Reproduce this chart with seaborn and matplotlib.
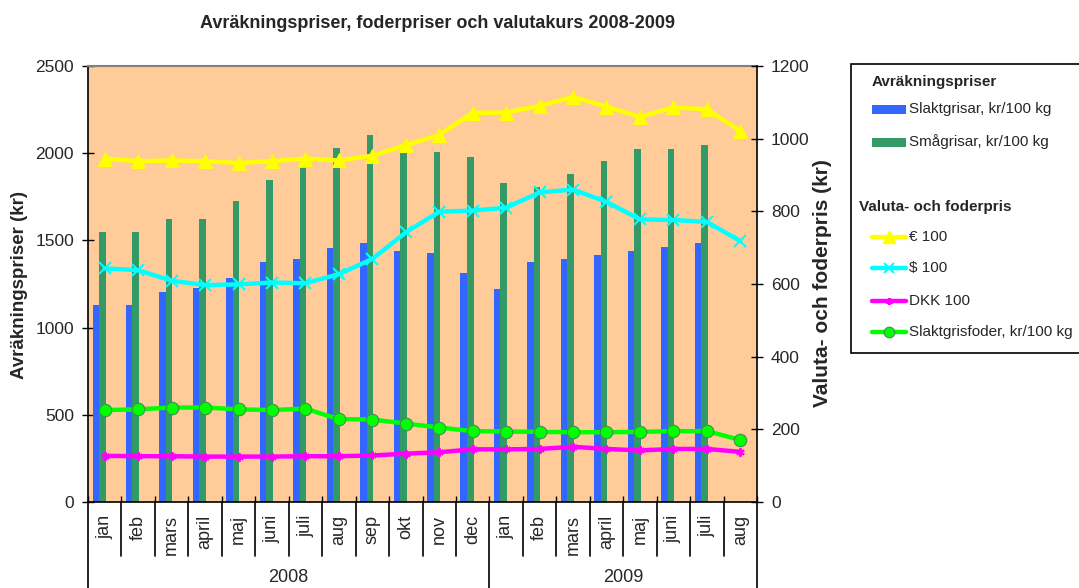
import numpy as np
import pandas as pd
import matplotlib
matplotlib.use("Agg")
import matplotlib.pyplot as plt
import seaborn as sns
from matplotlib.lines import Line2D
from matplotlib.patches import Rectangle

# ---------------- data ----------------
months = ["jan", "feb", "mars", "april", "maj", "juni", "juli", "aug", "sep", "okt", "nov", "dec",
          "jan", "feb", "mars", "april", "maj", "juni", "juli", "aug"]
years = ["2008"] * 12 + ["2009"] * 8
slaktgrisar = [1130, 1130, 1206, 1229, 1286, 1374, 1391, 1458, 1487, 1441, 1426, 1311,
               1220, 1376, 1393, 1416, 1439, 1462, 1485, np.nan]
smagrisar = [1548, 1548, 1621, 1621, 1726, 1846, 1917, 2032, 2106, 2005, 2005, 1980,
             1831, 1808, 1881, 1955, 2026, 2026, 2045, np.nan]
euro = [945, 938, 940, 938, 933, 938, 945, 940, 953, 982, 1010, 1071,
        1072, 1090, 1115, 1088, 1060, 1086, 1081, 1021]
usd = [643, 638, 609, 597, 599, 604, 602, 627, 669, 742, 799, 802,
       810, 852, 860, 826, 778, 776, 771, 718]
dkk = [127, 126, 126, 125, 125, 125, 126, 126, 128, 133, 137, 145,
       145, 146, 152, 146, 142, 146, 146, 138]
foder = [253, 255, 260, 260, 255, 253, 257, 228, 227, 216, 205, 195,
         194, 193, 192, 192, 193, 195, 195, 171]

bar_names = ["Slaktgrisar, kr/100 kg", "Smågrisar, kr/100 kg"]
line_names = ["€ 100", "$ 100", "DKK 100", "Slaktgrisfoder, kr/100 kg"]
title = "Avräkningspriser, foderpriser och valutakurs 2008-2009"
left_label = "Avräkningspriser (kr)"
right_label = "Valuta- och foderpris (kr)"
legend_head1 = "Avräkningspriser"
legend_head2 = "Valuta- och foderpris"

# ---------------- style ----------------
sns.set_theme(style="white")
plt.rcParams["font.family"] = ["Liberation Sans", "DejaVu Sans"]

W, H = 1079, 588
fig = plt.figure(figsize=(W / 100, H / 100), dpi=100)
fig.patch.set_facecolor("white")


def fx(px):
    return px / W


def fy(py):
    return 1 - py / H


ax_l, ax_r, ax_t, ax_b = 88, 757, 66, 502
ax = fig.add_axes([fx(ax_l), fy(ax_b), (ax_r - ax_l) / W, (ax_b - ax_t) / H])
ax.set_facecolor("#FFCC99")

keys = [f"{y}-{m}" for y, m in zip(years, months)]
idx = np.arange(len(keys))

c_blue, c_green = "#3366FF", "#339966"
df_bars = pd.DataFrame({
    "key": keys * 2,
    "serie": [bar_names[0]] * len(keys) + [bar_names[1]] * len(keys),
    "value": slaktgrisar + smagrisar,
}).dropna()

sns.barplot(data=df_bars, x="key", y="value", hue="serie", order=keys, hue_order=bar_names,
            palette=[c_blue, c_green], width=0.39, dodge=True, saturation=1,
            errorbar=None, legend=False, ax=ax, linewidth=0)
for p in ax.patches:
    p.set_x(p.get_x() - 0.17)

ax.set_xlim(-0.5, len(keys) - 0.5)
ax.set_ylim(0, 2500)
ax.set_yticks(range(0, 2501, 500))
ax.set_xlabel("")
ax.set_ylabel("")
ax.set_xticks(np.arange(-0.5, len(keys), 1))
ax.set_xticklabels([])
ax.tick_params(axis="x", direction="in", length=4.5, width=1, color="black", bottom=True)
ax.tick_params(axis="y", direction="inout", length=8, width=1, color="black", left=True,
               labelsize=12.5, pad=6)
for s in ["left", "bottom"]:
    ax.spines[s].set_color("black")
    ax.spines[s].set_linewidth(1.2)
ax.spines["top"].set_color("#808080")
ax.spines["top"].set_linewidth(1.5)
ax.spines["right"].set_visible(False)

ax2 = ax.twinx()
ax2.set_ylim(0, 1200)
ax2.set_yticks(range(0, 1201, 200))
ax2.tick_params(axis="y", direction="inout", length=8, width=1, color="black", right=True,
                labelsize=12.5, pad=6)
for s in ["left", "bottom", "top"]:
    ax2.spines[s].set_visible(False)
ax2.spines["right"].set_color("black")
ax2.spines["right"].set_linewidth(1.2)

line_styles = [
    dict(color="#FFFF00", marker="^", markersize=10, markeredgecolor="#FFFF00",
         markerfacecolor="#FFFF00"),
    dict(color="#00FFFF", marker="x", markersize=8, markeredgecolor="#00FFFF",
         markeredgewidth=1.5),
    dict(color="#FF00FF", marker=(6, 2, 0), markersize=6, markeredgecolor="#FF00FF",
         markeredgewidth=1.5),
    dict(color="#00FF00", marker="o", markersize=9, markeredgecolor="#3f8f4f",
         markerfacecolor="#00FF00", markeredgewidth=0.8),
]
for vals, st in zip([euro, usd, dkk, foder], line_styles):
    sns.lineplot(x=idx, y=vals, ax=ax2, linewidth=3.2, legend=False, **st)
ax2.set_xlim(-0.5, len(keys) - 0.5)
ax2.set_ylabel("")

# ---------------- multi-level category axis ----------------
xt = ax.get_xaxis_transform()
hpx = ax_b - ax_t


def ay(py):
    return (ax_b - py) / hpx


for i, m in enumerate(months):
    ax.text(i, ay(515), m, rotation=90, ha="center", va="top", fontsize=13,
            transform=xt, clip_on=False)
year_bounds = [-0.5, 11.5, len(keys) - 0.5]
for b in np.arange(-0.5, len(keys), 1):
    end = ay(600) if b in year_bounds else ay(556)
    ax.add_line(Line2D([b, b], [0, end], transform=xt, color="black", lw=1.2, clip_on=False))
for yr, (a, b) in zip(["2008", "2009"], [(-0.5, 11.5), (11.5, len(keys) - 0.5)]):
    ax.text((a + b) / 2, ay(578), yr, ha="center", va="center", fontsize=13,
            transform=xt, clip_on=False)

# ---------------- titles ----------------
fig.text(fx(438), fy(24), title, ha="center", va="center", fontsize=13, fontweight="bold")
fig.text(fx(20), fy(285), left_label, rotation=90, ha="center", va="center",
         fontsize=13.5, fontweight="bold")
fig.text(fx(823), fy(283), right_label, rotation=90, ha="center", va="center",
         fontsize=15, fontweight="bold")

# ---------------- legend ----------------
fig.patches.append(Rectangle((fx(851), fy(353)), fx(1100 - 851), (353 - 64) / H,
                             transform=fig.transFigure, facecolor="white",
                             edgecolor="black", lw=1.2))
fig.text(fx(872), fy(82), legend_head1, ha="left", va="center", fontsize=11,
         fontweight="bold")
for name, col, py in zip(bar_names, [c_blue, c_green], [109, 142]):
    fig.patches.append(Rectangle((fx(872), fy(py + 4.5)), fx(34), 9 / H,
                                 transform=fig.transFigure, facecolor=col, edgecolor="none"))
    fig.text(fx(909), fy(py), name, ha="left", va="center", fontsize=11)
fig.text(fx(859), fy(207), legend_head2, ha="left", va="center", fontsize=11,
         fontweight="bold")
for name, st, py in zip(line_names, line_styles, [237, 268, 301, 332]):
    st2 = dict(st)
    st2["markersize"] = st["markersize"] * 0.85
    ln = Line2D([fx(872), fx(889), fx(906)], [fy(py)] * 3, transform=fig.transFigure,
                linewidth=3.2, markevery=[1], **st2)
    fig.lines.append(ln)
    fig.text(fx(909), fy(py), name, ha="left", va="center", fontsize=11)

fig.savefig("out.png", dpi=100)
